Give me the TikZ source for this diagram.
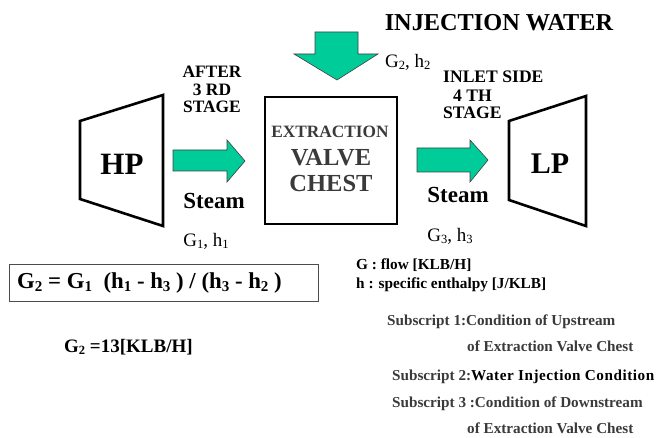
\documentclass[tikz,border=0pt]{standalone}
\usepackage{fontspec}
\setmainfont{Liberation Serif}
\usepackage{graphicx}
\definecolor{jet}{RGB}{0,204,153}
\definecolor{inkgrey}{RGB}{58,58,58}
% lowered small index in the current font
\newcommand{\lo}[1]{\raisebox{-0.3ex}{\scalebox{0.66}{#1}}}
\newcommand{\fs}[1]{\fontsize{#1}{1.15\dimexpr#1pt\relax}\selectfont}
\begin{document}
\begin{tikzpicture}[x=1pt,y=-1pt,
  lbl/.style={inner sep=0pt, align=center, font=\bfseries},
  casing/.style={draw=black, line width=2.6pt, line join=miter},
  blockarrow/.style={fill=jet, draw=black!75, line width=0.6pt, line join=miter}]
\useasboundingbox (0,0) rectangle (656,438);

% turbine casings
\draw[casing] (80,121) -- (163,95) -- (163,226) -- (80,199) -- cycle;
\draw[casing] (509,121) -- (586,96) -- (586,226) -- (509,200) -- cycle;
\node[lbl, font=\fs{31}\bfseries] (hp) at (122,164) {HP};
\node[lbl, font=\fs{30}\bfseries] (lp) at (550,164) {LP};

% extraction valve chest
\draw[casing] (265,97) rectangle (397,224);
\node[lbl, text=inkgrey, font=\fs{17.3}\bfseries] (ext) at (330,132) {EXTRACTION};
\node[lbl, text=inkgrey, font=\fs{24.5}\bfseries] (valve) at (331,158) {VALVE};
\node[lbl, text=inkgrey, font=\fs{24.5}\bfseries] (chest) at (331,184) {CHEST};

% steam and water flow arrows
\draw[blockarrow] (173,150) -- (227,150) -- (227,140) -- (245,161) -- (227,182) -- (227,171) -- (173,171) -- cycle;
\draw[blockarrow] (417,148) -- (470,148) -- (470,140) -- (488,160) -- (470,182) -- (470,172) -- (417,172) -- cycle;
\draw[blockarrow] (315,32) -- (358,32) -- (358,54) -- (378,54) -- (337,80) -- (294,54) -- (315,54) -- cycle;

% flow labels
\node[lbl, font=\fs{24.3}\bfseries] (inj) at (499,23) {INJECTION WATER};
\node[inner sep=0pt, font=\fs{19}, anchor=west] (g2) at (385,62) {G\lo{2}, h\lo{2}};
\node[lbl, font=\fs{17.4}\bfseries] (after) at (212,72) {AFTER};
\node[lbl, font=\fs{17.4}\bfseries] (rd) at (212,90) {3 RD};
\node[lbl, font=\fs{17.4}\bfseries] (stage1) at (212,107) {STAGE};
\node[lbl, font=\fs{17.6}\bfseries, anchor=west] (inlet) at (443,77) {INLET SIDE};
\node[lbl, font=\fs{17.6}\bfseries, anchor=west] (th) at (453,96) {4 TH};
\node[lbl, font=\fs{17.6}\bfseries, anchor=west] (stage2) at (443,113) {STAGE};
\node[lbl, font=\fs{23}\bfseries] (steam1) at (214,201) {Steam};
\node[lbl, font=\fs{23}\bfseries] (steam2) at (458,195) {Steam};
\node[inner sep=0pt, font=\fs{19}] (g1) at (206,241) {G\lo{1}, h\lo{1}};
\node[inner sep=0pt, font=\fs{19}] (g3) at (450,236) {G\lo{3}, h\lo{3}};

% balance equation
\draw[draw=black!70, line width=0.8pt] (9,264) rectangle (318,301);
\node[lbl, font=\fs{22.8}\bfseries, anchor=west] (eq) at (17,283)
  {G\lo{2} = G\lo{1}~~(h\lo{1} - h\lo{3} ) / (h\lo{3} - h\lo{2} )};
\node[lbl, font=\fs{19}\bfseries, anchor=west] (res) at (64,347) {G\lo{2} =13[KLB/H]};

% legend
\node[lbl, font=\fs{15.3}\bfseries, anchor=west] (lg) at (356,265) {G : flow [KLB/H]};
\node[lbl, font=\fs{15.3}\bfseries, anchor=west] (lh) at (356,285) {h : specific enthalpy [J/KLB]};
\node[lbl, text=inkgrey, font=\fs{15.2}\bfseries, anchor=west] (s1) at (387,322) {Subscript 1:Condition of Upstream};
\node[lbl, text=inkgrey, font=\fs{15.2}\bfseries, anchor=west] (s1b) at (467,346) {of Extraction Valve Chest};
\node[lbl, text=inkgrey, font=\fs{15.2}\bfseries, anchor=west] (s2) at (392,377)
  {Subscript 2:{\addfontfeature{LetterSpace=3.5}\color{black}Water Injection Condition}};
\node[lbl, text=inkgrey, font=\fs{15.2}\bfseries, anchor=west] (s3) at (392,404) {Subscript 3 :Condition of Downstream};
\node[lbl, text=inkgrey, font=\fs{15.2}\bfseries, anchor=west] (s3b) at (467,428) {of Extraction Valve Chest};
\end{tikzpicture}
\end{document}
